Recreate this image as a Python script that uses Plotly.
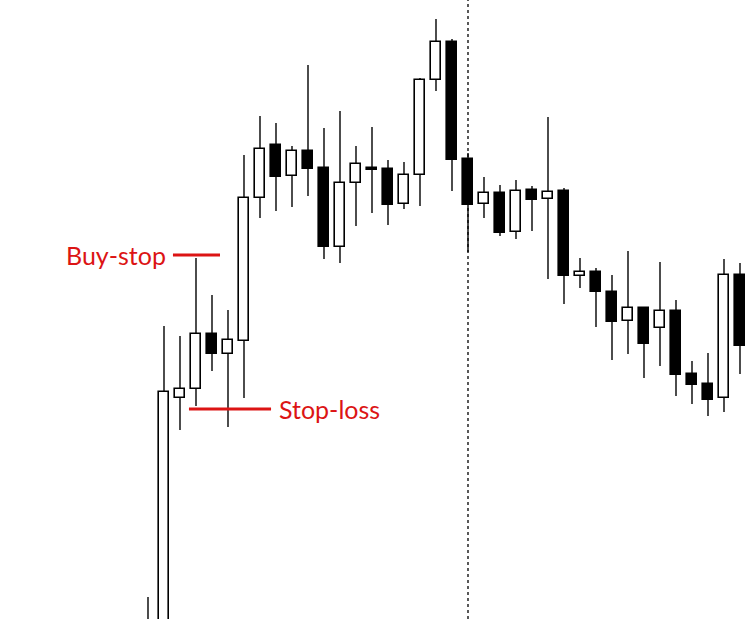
import plotly.graph_objects as go

# OHLC values (arbitrary price units)
opens  = [-21, -41, 221, 230, 285, 265, 278, 421, 474, 443, 468, 451, 372, 436, 451, 450, 415, 444, 539, 577,
          460, 415, 426, 387, 429, 420, 428, 343, 347, 327, 298, 311, 291, 308, 245, 235, 221, 344]
highs  = [22, 293, 283, 361, 324, 309, 464, 503, 496, 473, 554, 491, 508, 473, 492, 459, 457, 541, 600, 580,
          466, 442, 434, 439, 433, 502, 431, 361, 351, 344, 368, 312, 357, 319, 258, 266, 360, 356]
lows   = [-56, -61, 189, 213, 248, 192, 221, 401, 408, 412, 423, 360, 356, 393, 406, 394, 410, 413, 528, 428,
          367, 401, 383, 380, 388, 340, 315, 331, 292, 259, 265, 241, 253, 223, 215, 203, 207, 245]
closes = [-41, 227, 230, 285, 265, 279, 421, 470, 442, 468, 450, 372, 436, 455, 449, 414, 444, 539, 577, 459,
          414, 426, 386, 428, 419, 427, 343, 347, 327, 297, 311, 275, 308, 244, 234, 219, 344, 273]
bars = list(range(len(opens)))

marker_bar = 20          # dashed vertical marker
buy_stop_level = 364
stop_loss_level = 210
buy_stop_span = [1.56, 4.5]
stop_loss_span = [2.56, 7.69]

RED = "#dc1414"
BODY_W = 0.6

fig = go.Figure()

# wicks split above and below the body
wx, wy = [], []
for i, o, h, l, c in zip(bars, opens, highs, lows, closes):
    top, bot = max(o, c), min(o, c)
    wx += [i, i, None, i, i, None]
    wy += [h, top, None, bot, l, None]
fig.add_trace(go.Scatter(x=wx, y=wy, mode="lines", line=dict(color="black", width=1.4),
                         hoverinfo="skip", showlegend=False))

# bodies
fig.add_trace(go.Bar(
    x=bars,
    y=[abs(c - o) for o, c in zip(opens, closes)],
    base=[min(o, c) for o, c in zip(opens, closes)],
    width=BODY_W,
    marker=dict(color=["white" if c > o else "black" for o, c in zip(opens, closes)],
                line=dict(color="black", width=1.6)),
    showlegend=False,
))

# order levels
fig.add_trace(go.Scatter(x=buy_stop_span, y=[buy_stop_level] * 2, mode="lines",
                         line=dict(color=RED, width=3), showlegend=False))
fig.add_trace(go.Scatter(x=stop_loss_span, y=[stop_loss_level] * 2, mode="lines",
                         line=dict(color=RED, width=3), showlegend=False))

fig.add_annotation(x=buy_stop_span[0] - 0.3, y=buy_stop_level, text="Buy-stop", showarrow=False,
                   xanchor="right", yanchor="middle", font=dict(family="Lato", size=25, color=RED))
fig.add_annotation(x=stop_loss_span[1] + 0.35, y=stop_loss_level, text="Stop-loss", showarrow=False,
                   xanchor="left", yanchor="middle", font=dict(family="Lato", size=25, color=RED))

fig.add_shape(type="line", x0=marker_bar, x1=marker_bar, y0=0, y1=1, yref="paper",
              line=dict(color="black", width=1.3, dash="3px,3px"))

fig.update_layout(
    width=748, height=619,
    margin=dict(l=0, r=0, t=0, b=0),
    paper_bgcolor="white", plot_bgcolor="white",
    xaxis=dict(visible=False, range=[-9.25, 37.5]),
    yaxis=dict(visible=False, range=[0, 619]),
    bargap=0,
)

fig.write_html("out.html", config={"displayModeBar": False},
               post_script="document.body.style.margin='0';document.body.style.overflow='hidden';")
